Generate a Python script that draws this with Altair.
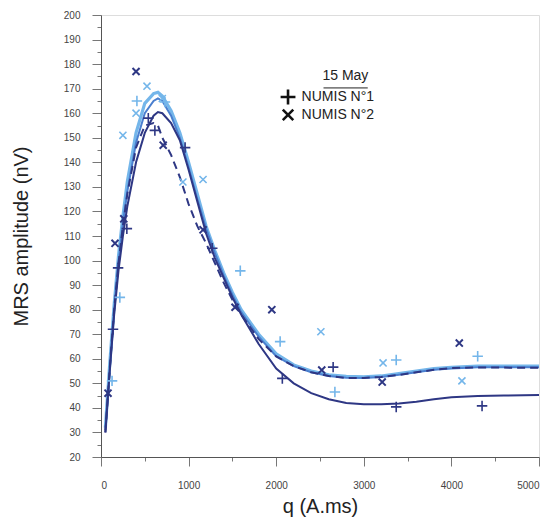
import altair as alt
import pandas as pd

# ---------------- data ----------------
curve_q = [50, 100, 150, 200, 250, 300, 400, 500, 600, 650, 700, 800, 900, 1000, 1100,
           1200, 1300, 1400, 1500, 1600, 1800, 2000, 2200, 2400, 2600, 2800, 3000, 3200,
           3400, 3600, 3800, 4000, 4300, 4600, 5000]
fit_dark = [30, 55, 78, 96, 110, 122, 140, 152, 159, 160.5, 160, 156, 149, 137, 124,
            111, 101, 93, 85, 78, 66, 56, 50, 46, 43.5, 42, 41.5, 41.5, 41.8, 42.5,
            43.5, 44.3, 44.8, 45, 45.2]
fit_light = [32, 58, 82, 102, 118, 132, 152, 164, 168, 168.5, 167, 161, 152, 140, 127,
             114, 104, 95, 87, 80, 70, 62, 57.5, 55, 53.5, 52.8, 52.6, 53, 54, 55,
             56, 56.5, 57, 57, 57]
fit_medium = [31, 56, 80, 99, 115, 128, 148, 160, 165, 166, 165, 159, 150, 138, 125,
              113, 103, 94, 86, 79, 69, 61, 57, 54.5, 53, 52.3, 52.2, 52.6, 53.5, 54.5,
              55.5, 56, 56.5, 56.5, 56.5]
fit_dashed = [30, 56, 80, 99, 114, 127, 146, 155, 156, 155, 150, 143, 134, 123, 114,
              107, 99, 91, 84, 78, 68, 61, 57, 54.5, 53, 52.2, 52.2, 52.6, 53.4, 54.5,
              55.5, 56.2, 56.5, 56.4, 56.3]

plus_dark_q = [137, 195, 295, 540, 615, 960, 1270, 2070, 2650, 3370, 4350]
plus_dark_y = [72, 97, 113, 158, 153, 146, 105, 52, 56.6, 40.4, 40.8]
cross_dark_q = [80, 160, 260, 400, 710, 1165, 1530, 1950, 2520, 3210, 4090]
cross_dark_y = [46, 107, 117, 177, 147, 112.5, 81, 80, 55.4, 50.5, 66.4]
plus_light_q = [126, 215, 410, 730, 1590, 2045, 2670, 3370, 4300]
plus_light_y = [51, 85, 165, 164.6, 95.8, 67, 46.5, 59.5, 61]
cross_light_q = [250, 400, 525, 700, 935, 1165, 2510, 3220, 4120]
cross_light_y = [151, 160, 171, 166, 132, 133, 71, 58.3, 51]

x_ticks = list(range(0, 5001, 500))
y_ticks = list(range(20, 201, 5))

legend_title = "15 May"
legend_labels = ["NUMIS N°1", "NUMIS N°2"]

# ---------------- styling ----------------
DARK = "#2e3784"
MEDIUM = "#4a7fcf"
LIGHT = "#74b6ea"
PLUS = "M-1,0L1,0M0,-1L0,1"
CROSS = "M-1,-1L1,1M1,-1L-1,1"

xscale = alt.Scale(domain=[0, 5000], nice=False)
yscale = alt.Scale(domain=[20, 200], nice=False)

xaxis = alt.Axis(
    values=x_ticks,
    labelExpr="datum.value % 1000 === 0 ? datum.value : ''",
    tickSize={"condition": {"test": "datum.value % 1000 === 0", "value": 9}, "value": 4},
    ticks=True, labelOverlap=False,
    title="q (A.ms)", titleFontSize=20, titleFontWeight="normal",
    titleFont="Liberation Sans", titleColor="#222", titlePadding=6,
    labelFont="Liberation Sans", labelFontSize=10, labelColor="#444",
    labelPadding=14, domainColor="#555", tickColor="#777", grid=False,
)
yaxis = alt.Axis(
    values=y_ticks,
    labelExpr="datum.value % 10 === 0 ? datum.value : ''",
    tickSize={"condition": {"test": "datum.value % 10 === 0", "value": 9}, "value": 4},
    ticks=True, labelOverlap=False,
    title="MRS amplitude (nV)", titleFontSize=20, titleFontWeight="normal",
    titleFont="Liberation Sans", titleColor="#222", titlePadding=32,
    labelFont="Liberation Sans", labelFontSize=10, labelColor="#444",
    labelPadding=12, domainColor="#555", tickColor="#777", grid=False,
)

X = lambda: alt.X("q:Q", scale=xscale, axis=xaxis)
Y = lambda: alt.Y("y:Q", scale=yscale, axis=yaxis)

def line(ys, color, width, dash=None):
    kw = dict(color=color, strokeWidth=width, clip=True)
    if dash:
        kw["strokeDash"] = dash
    return alt.Chart(pd.DataFrame({"q": curve_q, "y": ys})).mark_line(**kw).encode(x=X(), y=Y())

def pts(qs, ys, shape, color, size, sw=1.6):
    return alt.Chart(pd.DataFrame({"q": qs, "y": ys})).mark_point(
        shape=shape, filled=False, color=color, size=size, strokeWidth=sw, opacity=1
    ).encode(x=X(), y=Y())

layers = [
    line(fit_light, LIGHT, 3.2),
    line(fit_medium, MEDIUM, 2),
    line(fit_dark, DARK, 2),
    line(fit_dashed, DARK, 2, [8, 5]),
    pts(plus_light_q, plus_light_y, PLUS, LIGHT, 110),
    pts(cross_light_q, cross_light_y, CROSS, LIGHT, 50),
    pts(plus_dark_q, plus_dark_y, PLUS, DARK, 110),
    pts(cross_dark_q, cross_dark_y, CROSS, DARK, 50, 2),
]

# legend drawn inside the plot in data coordinates
layers.append(pts([2135], [166.6], PLUS, "#111", 220, 2.6))
layers.append(pts([2135], [159.3], CROSS, "#111", 110, 2.6))
leg_txt = pd.DataFrame({"q": [2290, 2290], "y": [166.6, 159.3], "label": legend_labels})
layers.append(alt.Chart(leg_txt).mark_text(
    align="left", baseline="middle", font="Liberation Sans", fontSize=14, color="#222"
).encode(x=X(), y=Y(), text="label:N"))
title_df = pd.DataFrame({"q": [2790], "y": [175], "label": [legend_title]})
layers.append(alt.Chart(title_df).mark_text(
    align="center", baseline="middle", font="Liberation Sans", fontSize=14, color="#222"
).encode(x=X(), y=Y(), text="label:N"))
ul_df = pd.DataFrame({"q": [2540], "q2": [3045], "y": [170.3]})
layers.append(alt.Chart(ul_df).mark_rule(color="#222", strokeWidth=1).encode(
    x=X(), x2="q2:Q", y=Y()))

chart = alt.layer(*layers).properties(
    width=438, height=442,
    autosize=alt.AutoSizeParams(type="none"),
    padding={"left": 93, "top": 7, "right": 7, "bottom": 66},
).configure_view(fill="#f7f7f7", stroke=None).configure(background="white")

chart.save("out.html", embed_options={"renderer": "svg", "actions": False})
